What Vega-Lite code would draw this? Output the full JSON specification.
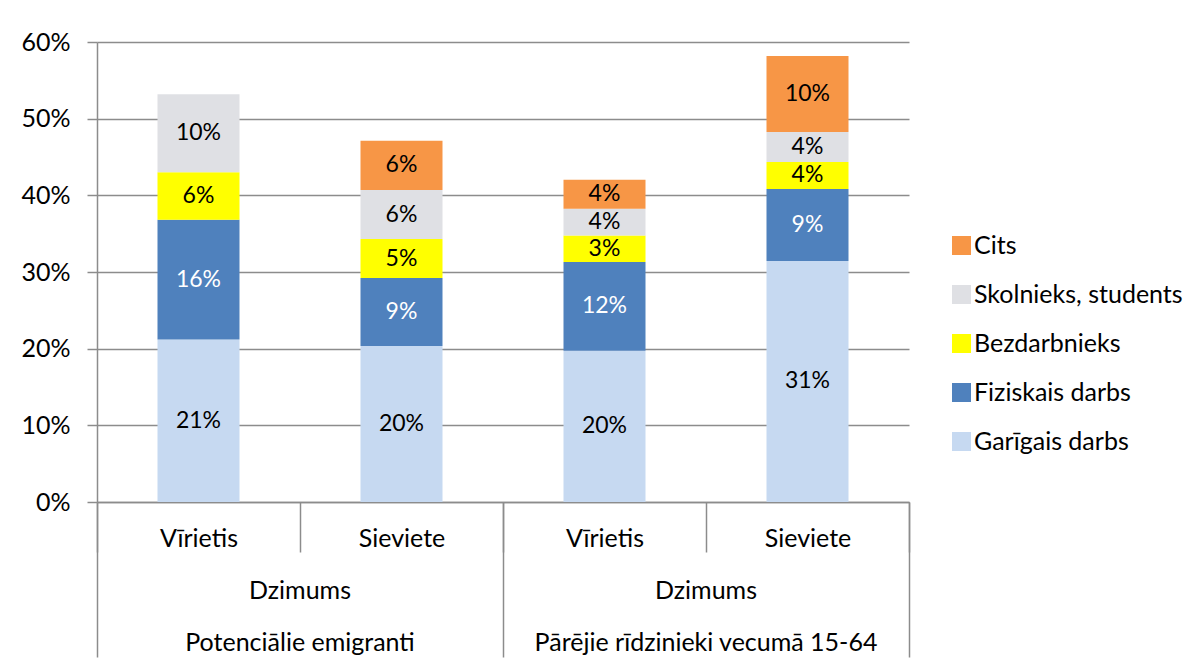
{
  "$schema": "https://vega.github.io/schema/vega-lite/v6.json",
  "autosize": "none",
  "padding": {"left": 97, "top": 42, "right": 292, "bottom": 164},
  "width": 812,
  "height": 460,
  "background": "white",
  "data": {
    "values": [
      {"bar": "Potenciālie emigranti|Vīrietis", "kat": "Garīgais darbs", "nr": 1, "v": 0.212},
      {"bar": "Potenciālie emigranti|Vīrietis", "kat": "Fiziskais darbs", "nr": 2, "v": 0.156},
      {"bar": "Potenciālie emigranti|Vīrietis", "kat": "Bezdarbnieks", "nr": 3, "v": 0.062},
      {"bar": "Potenciālie emigranti|Vīrietis", "kat": "Skolnieks, students", "nr": 4, "v": 0.102},
      {"bar": "Potenciālie emigranti|Sieviete", "kat": "Garīgais darbs", "nr": 1, "v": 0.2035},
      {"bar": "Potenciālie emigranti|Sieviete", "kat": "Fiziskais darbs", "nr": 2, "v": 0.0887},
      {"bar": "Potenciālie emigranti|Sieviete", "kat": "Bezdarbnieks", "nr": 3, "v": 0.0508},
      {"bar": "Potenciālie emigranti|Sieviete", "kat": "Skolnieks, students", "nr": 4, "v": 0.0639},
      {"bar": "Potenciālie emigranti|Sieviete", "kat": "Cits", "nr": 5, "v": 0.0643},
      {"bar": "Pārējie rīdzinieki vecumā 15-64|Vīrietis", "kat": "Garīgais darbs", "nr": 1, "v": 0.1974},
      {"bar": "Pārējie rīdzinieki vecumā 15-64|Vīrietis", "kat": "Fiziskais darbs", "nr": 2, "v": 0.1157},
      {"bar": "Pārējie rīdzinieki vecumā 15-64|Vīrietis", "kat": "Bezdarbnieks", "nr": 3, "v": 0.0345},
      {"bar": "Pārējie rīdzinieki vecumā 15-64|Vīrietis", "kat": "Skolnieks, students", "nr": 4, "v": 0.035},
      {"bar": "Pārējie rīdzinieki vecumā 15-64|Vīrietis", "kat": "Cits", "nr": 5, "v": 0.0378},
      {"bar": "Pārējie rīdzinieki vecumā 15-64|Sieviete", "kat": "Garīgais darbs", "nr": 1, "v": 0.3145},
      {"bar": "Pārējie rīdzinieki vecumā 15-64|Sieviete", "kat": "Fiziskais darbs", "nr": 2, "v": 0.0938},
      {"bar": "Pārējie rīdzinieki vecumā 15-64|Sieviete", "kat": "Bezdarbnieks", "nr": 3, "v": 0.0352},
      {"bar": "Pārējie rīdzinieki vecumā 15-64|Sieviete", "kat": "Skolnieks, students", "nr": 4, "v": 0.0391},
      {"bar": "Pārējie rīdzinieki vecumā 15-64|Sieviete", "kat": "Cits", "nr": 5, "v": 0.0991}
    ]
  },
  "config": {
    "font": "Lato",
    "view": {"stroke": null},
    "axis": {
      "labelFont": "Lato",
      "labelFontSize": 25,
      "labelColor": "black",
      "labelLimit": 500,
      "domainColor": "#8c8c8c",
      "tickColor": "#8c8c8c",
      "gridColor": "#8c8c8c",
      "domainWidth": 1.5,
      "tickWidth": 1.5,
      "gridWidth": 1.5
    }
  },
  "layer": [
    {
      "mark": {"type": "bar", "width": {"band": 0.404}},
      "encoding": {
        "x": {
          "field": "bar", "type": "nominal",
          "scale": {"domain": ["Potenciālie emigranti|Vīrietis", "Potenciālie emigranti|Sieviete", "Pārējie rīdzinieki vecumā 15-64|Vīrietis", "Pārējie rīdzinieki vecumā 15-64|Sieviete"], "paddingInner": 0, "paddingOuter": 0},
          "axis": {"orient": "bottom", "title": null, "tickBand": "extent", "tickSize": 50, "labelExpr": "split(datum.value,'|')[1]", "labelPadding": -6, "labelBaseline": "alphabetic", "labelAngle": 0, "grid": false, "domain": true}
        },
        "y": {
          "field": "v", "type": "quantitative", "stack": "zero",
          "scale": {"domain": [0, 0.6], "nice": false},
          "axis": {"title": null, "values": [0, 0.1, 0.2, 0.3, 0.4, 0.5, 0.6], "format": ".0%", "tickSize": 10, "labelPadding": 17, "grid": true, "domain": true}
        },
        "color": {
          "field": "kat", "type": "nominal",
          "scale": {"domain": ["Cits", "Skolnieks, students", "Bezdarbnieks", "Fiziskais darbs", "Garīgais darbs"], "range": ["#f79646", "#dfe0e4", "#ffff00", "#4f81bd", "#c6d9f1"]},
          "legend": {"orient": "none", "legendX": 852, "legendY": 191, "title": null, "direction": "vertical", "symbolType": "square", "symbolSize": 361, "symbolStrokeWidth": 0, "symbolOpacity": 1, "labelFont": "Lato", "labelFontSize": 25, "labelColor": "black", "labelLimit": 500, "rowPadding": 23, "labelOffset": 0, "padding": 0}
        },
        "order": {"field": "nr", "type": "quantitative"}
      }
    },
    {
      "mark": {"type": "text", "fontSize": 23, "font": "Lato", "baseline": "middle", "align": "center"},
      "encoding": {
        "x": {
          "field": "bar", "type": "nominal",
          "scale": {"domain": ["Potenciālie emigranti|Vīrietis", "Potenciālie emigranti|Sieviete", "Pārējie rīdzinieki vecumā 15-64|Vīrietis", "Pārējie rīdzinieki vecumā 15-64|Sieviete"], "paddingInner": 0, "paddingOuter": 0},
          "axis": null
        },
        "y": {"field": "v", "type": "quantitative", "stack": "zero", "bandPosition": 0.5},
        "detail": {"field": "kat"},
        "order": {"field": "nr", "type": "quantitative"},
        "text": {"field": "v", "type": "quantitative", "format": ".0%"},
        "color": {"condition": {"test": "datum.kat === 'Fiziskais darbs'", "value": "white"}, "value": "black"}
      }
    },
    {
      "mark": {"type": "point", "opacity": 0},
      "encoding": {
        "x": {
          "field": "bar", "type": "nominal",
          "scale": {"domain": ["Potenciālie emigranti|Vīrietis", "Potenciālie emigranti|Sieviete", "Pārējie rīdzinieki vecumā 15-64|Vīrietis", "Pārējie rīdzinieki vecumā 15-64|Sieviete"], "paddingInner": 0, "paddingOuter": 0},
          "axis": {"orient": "bottom", "title": null, "values": ["Potenciālie emigranti|Vīrietis", "Pārējie rīdzinieki vecumā 15-64|Vīrietis"], "bandPosition": 0, "tickSize": 155, "labels": false, "domain": false, "grid": false}
        }
      }
    },
    {
      "mark": {"type": "point", "opacity": 0},
      "encoding": {
        "x": {
          "field": "bar", "type": "nominal",
          "scale": {"domain": ["Potenciālie emigranti|Vīrietis", "Potenciālie emigranti|Sieviete", "Pārējie rīdzinieki vecumā 15-64|Vīrietis", "Pārējie rīdzinieki vecumā 15-64|Sieviete"], "paddingInner": 0, "paddingOuter": 0},
          "axis": {"orient": "bottom", "title": null, "values": ["Pārējie rīdzinieki vecumā 15-64|Sieviete"], "bandPosition": 1, "tickSize": 155, "labels": false, "domain": false, "grid": false}
        }
      }
    },
    {
      "mark": {"type": "point", "opacity": 0},
      "encoding": {
        "x": {
          "field": "bar", "type": "nominal",
          "scale": {"domain": ["Potenciālie emigranti|Vīrietis", "Potenciālie emigranti|Sieviete", "Pārējie rīdzinieki vecumā 15-64|Vīrietis", "Pārējie rīdzinieki vecumā 15-64|Sieviete"], "paddingInner": 0, "paddingOuter": 0},
          "axis": {"orient": "bottom", "title": null, "values": ["Potenciālie emigranti|Vīrietis", "Pārējie rīdzinieki vecumā 15-64|Vīrietis"], "ticks": false, "tickSize": 0, "labelExpr": "'Dzimums'", "labelOffset": 101.5, "labelPadding": 96, "labelBaseline": "alphabetic", "labelAngle": 0, "labelOverlap": false, "labelBound": false, "labelFlush": false, "domain": false, "grid": false}
        }
      }
    },
    {
      "mark": {"type": "point", "opacity": 0},
      "encoding": {
        "x": {
          "field": "bar", "type": "nominal",
          "scale": {"domain": ["Potenciālie emigranti|Vīrietis", "Potenciālie emigranti|Sieviete", "Pārējie rīdzinieki vecumā 15-64|Vīrietis", "Pārējie rīdzinieki vecumā 15-64|Sieviete"], "paddingInner": 0, "paddingOuter": 0},
          "axis": {"orient": "bottom", "title": null, "values": ["Potenciālie emigranti|Vīrietis", "Pārējie rīdzinieki vecumā 15-64|Vīrietis"], "ticks": false, "tickSize": 0, "labelExpr": "split(datum.value,'|')[0]", "labelOffset": 101.5, "labelPadding": 148, "labelBaseline": "alphabetic", "labelAngle": 0, "labelOverlap": false, "labelBound": false, "labelFlush": false, "domain": false, "grid": false}
        }
      }
    }
  ],
  "resolve": {"axis": {"x": "independent"}}
}
